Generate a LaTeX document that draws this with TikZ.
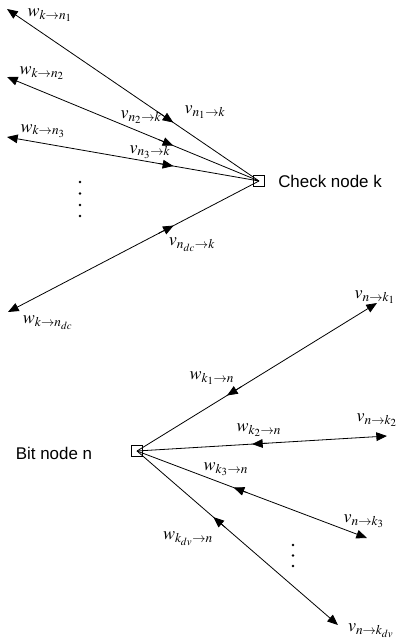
\documentclass[tikz,border=0pt]{standalone}
\usepackage{mathptmx}
\usepackage[no-math]{fontspec}
\newfontfamily\arialf{Liberation Sans}
\usetikzlibrary{calc,arrows.meta}
\tikzset{
  msg/.style={-{Triangle[length=8pt,width=6.5pt]},line width=0.6pt,black},
  nd/.style={draw,line width=0.6pt,minimum size=8.5pt,inner sep=0pt},
  lbl/.style={inner sep=0pt,font=\fontsize{13.5}{15}\selectfont},
  txt/.style={inner sep=0pt,font=\arialf\fontsize{12.7}{14}\selectfont}
}

\begin{document}
\begin{tikzpicture}[x=0.75pt,y=-0.75pt]
\useasboundingbox (0,0) rectangle (400,638);
% check node k and its edges
\node[nd] (ck) at (259,181) {};
\node[txt,anchor=west] (cklab) at (278,181) {Check node k};
\coordinate (a1) at (7,9);
\coordinate (a2) at (7,77);
\coordinate (a3) at (7,137);
\coordinate (a4) at (8,312);
\foreach \e in {a1,a2,a3,a4} {
  \draw[msg] (ck.center) -- (\e);
  \draw[msg] ($(\e)!0.6!(ck.center)$) -- ($(\e)!0.66!(ck.center)$);
}
\node[lbl] (w1) at (50,15) {$w_{k\rightarrow n_1}$};
\node[lbl] (v1) at (205,112) {$v_{n_1\rightarrow k}$};
\node[lbl] (w2) at (42,73) {$w_{k\rightarrow n_2}$};
\node[lbl] (v2) at (141,117) {$v_{n_2\rightarrow k}$};
\node[lbl] (w3) at (43,131) {$w_{k\rightarrow n_3}$};
\node[lbl] (v3) at (150,152) {$v_{n_3\rightarrow k}$};
\node[lbl] (vdc) at (192,245) {$v_{n_{dc}\rightarrow k}$};
\node[lbl] (wdc) at (48,323) {$w_{k\rightarrow n_{dc}}$};
\foreach \y in {182,193.5,205,216}
  \fill (80,\y) circle (1pt);
% bit node n and its edges
\node[nd] (bn) at (137,451) {};
\node[txt] (bnlab) at (54,453) {Bit node n};
\coordinate (b1) at (377,303);
\coordinate (b2) at (387,436);
\coordinate (b3) at (367,538);
\coordinate (b4) at (338,625);
\foreach \e/\f in {b1/0.375,b2/0.46,b3/0.42,b4/0.38} {
  \draw[msg] (bn.center) -- (\e);
  \draw[msg] ($(bn.center)!\f+0.06!(\e)$) -- ($(bn.center)!\f!(\e)$);
}
\node[lbl] (vk1) at (375,297) {$v_{n\rightarrow k_1}$};
\node[lbl] (wk1) at (212,378) {$w_{k_1\rightarrow n}$};
\node[lbl] (vk2) at (377,420) {$v_{n\rightarrow k_2}$};
\node[lbl] (wk2) at (259,430) {$w_{k_2\rightarrow n}$};
\node[lbl] (wk3) at (226,469) {$w_{k_3\rightarrow n}$};
\node[lbl] (vk3) at (364,521) {$v_{n\rightarrow k_3}$};
\node[lbl] (wdv) at (188,539) {$w_{k_{dv}\rightarrow n}$};
\node[lbl] (vdv) at (371,631) {$v_{n\rightarrow k_{dv}}$};
\foreach \y in {545,555.5,566}
  \fill (293,\y) circle (1pt);
\end{tikzpicture}
\end{document}
